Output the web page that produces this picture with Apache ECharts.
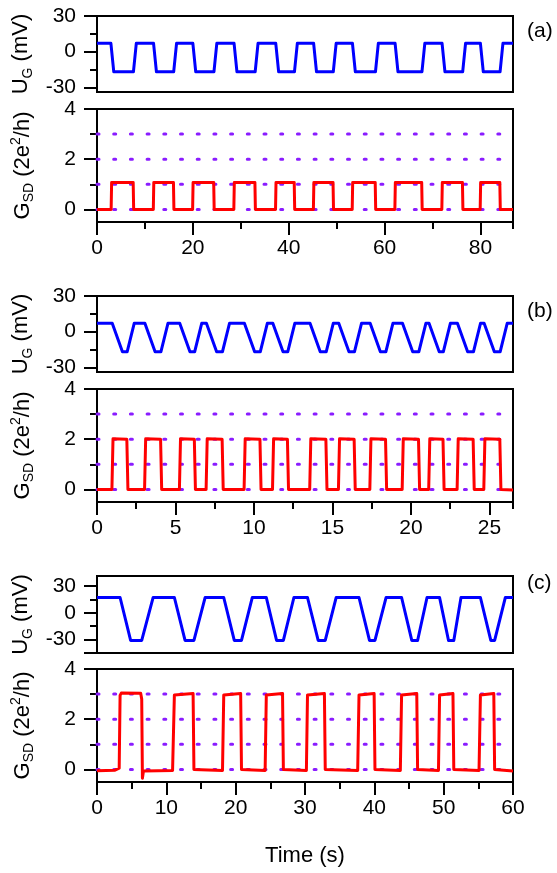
<!DOCTYPE html>
<html>
<head>
<meta charset="utf-8">
<script src="https://cdn.jsdelivr.net/npm/echarts@6/dist/echarts.min.js"></script>
<style>
  html, body { margin: 0; padding: 0; background: #fff; }
  #chart { width: 557px; height: 873px; }
</style>
</head>
<body>
<div id="chart"></div>
<script>
// ---- data: [time (s), value] ----
// panel (a)
const gateA = [[0,7],[2.9,7],[3.5,-17],[7.6,-17],[8.2,7],[11.8,7],[12.4,-17],[16.0,-17],[16.6,7],
  [20.0,7],[20.6,-17],[24.4,-17],[25.0,7],[28.6,7],[29.2,-17],[33.0,-17],[33.6,7],
  [37.3,7],[37.9,-17],[41.2,-17],[41.8,7],[45.2,7],[45.8,-17],[49.3,-17],[49.9,7],
  [53.3,7],[53.9,-17],[58.1,-17],[58.7,7],[62.2,7],[62.8,-17],[67.8,-17],[68.4,7],
  [72.0,7],[72.6,-17],[76.3,-17],[76.9,7],[80.0,7],[80.6,-17],[84.1,-17],[84.7,7],[86.8,7]];
const condA = [[0,0],[2.95,0],[3.05,1.07],[7.55,1.07],[7.65,0],
  [11.75,0],[11.85,1.07],[15.95,1.07],[16.05,0],[19.95,0],[20.05,1.07],[24.35,1.07],[24.45,0],
  [28.55,0],[28.65,1.07],[32.95,1.07],[33.05,0],[37.25,0],[37.35,1.07],[41.15,1.07],[41.25,0],
  [45.15,0],[45.25,1.07],[49.25,1.07],[49.35,0],[53.25,0],[53.35,1.07],[58.05,1.07],[58.15,0],
  [62.15,0],[62.25,1.07],[67.75,1.07],[67.85,0],[71.95,0],[72.05,1.07],[76.25,1.07],[76.35,0],
  [79.95,0],[80.05,1.07],[84.05,1.07],[84.15,0],[86.8,0]];
// panel (b)
const gateB = [[0,7],[0.97,7],[1.62,-17],[1.92,-17],[2.37,7],[3.05,7],[3.7,-17],[4.07,-17],[4.52,7],
  [5.27,7],[5.92,-17],[6.22,-17],[6.67,7],[6.97,7],[7.62,-17],[7.99,-17],[8.44,7],
  [9.39,7],[10.04,-17],[10.4,-17],[10.85,7],[11.2,7],[11.85,-17],[12.15,-17],[12.6,7],
  [13.57,7],[14.22,-17],[14.6,-17],[15.05,7],[15.4,7],[16.05,-17],[16.4,-17],[16.85,7],
  [17.4,7],[18.05,-17],[18.4,-17],[18.85,7],[19.46,7],[20.11,-17],[20.5,-17],[20.95,7],
  [21.15,7],[21.8,-17],[22.06,-17],[22.51,7],[22.96,7],[23.61,-17],[23.98,-17],[24.43,7],
  [24.66,7],[25.31,-17],[25.68,-17],[26.13,7],[26.5,7]];
const condB = [[0,0],[0.95,0],[1.02,2.02],[1.9,2.0],[1.97,0],[3.03,0],[3.1,2.02],[4.05,2.0],[4.12,0],
  [5.25,0],[5.32,2.02],[6.2,2.0],[6.27,0],[6.95,0],[7.02,2.02],[7.97,2.0],[8.04,0],
  [9.37,0],[9.44,2.02],[10.38,2.0],[10.45,0],[11.18,0],[11.25,2.02],[12.13,2.0],[12.2,0],
  [13.55,0],[13.62,2.02],[14.58,2.0],[14.65,0],[15.38,0],[15.45,2.02],[16.38,2.0],[16.45,0],
  [17.38,0],[17.45,2.02],[18.38,2.0],[18.45,0],[19.44,0],[19.51,2.02],[20.48,2.0],[20.55,0],
  [21.13,0],[21.2,2.02],[22.04,2.0],[22.11,0],[22.94,0],[23.01,2.02],[23.96,2.0],[24.03,0],
  [24.64,0],[24.71,2.02],[25.66,2.0],[25.73,0],[26.5,-0.02]];
// panel (c)
const gateC = [[0,17],[3.33,17],[4.85,-31],[6.45,-31],[8.1,17],[11.16,17],[12.7,-31],[13.98,-31],[15.6,17],
  [18.28,17],[19.8,-31],[20.84,-31],[22.4,17],[24.42,17],[25.9,-31],[26.88,-31],[28.4,17],
  [30.36,17],[31.9,-31],[32.92,-31],[34.5,17],[37.79,17],[39.3,-31],[40.09,-31],[41.7,17],
  [43.93,17],[45.4,-31],[46.24,-31],[47.6,17],[49.41,17],[50.7,-31],[51.46,-31],[52.5,17],
  [55.3,17],[56.8,-31],[57.35,-31],[58.9,17],[60,17]];
const condC = [[0,-0.05],[2.6,-0.03],[3.2,0.05],[3.33,2.95],[3.5,3.04],[6.3,3.03],[6.45,2.8],[6.55,-0.35],[6.7,-0.06],
  [10.9,-0.04],[11.05,0.02],[11.16,2.96],[11.4,3.03],[13.86,3.02],[13.98,0],[14.2,-0.05],
  [18.1,-0.04],[18.2,0.02],[18.28,2.96],[18.5,3.03],[20.72,3.02],[20.84,0],[21.1,-0.05],
  [24.25,-0.04],[24.35,0.02],[24.42,2.96],[24.6,3.03],[26.76,3.02],[26.88,0],[27.1,-0.05],
  [30.2,-0.04],[30.3,0.02],[30.36,2.96],[30.6,3.03],[32.8,3.02],[32.92,0],[33.2,-0.05],
  [37.6,-0.04],[37.7,0.02],[37.79,2.96],[38.0,3.03],[39.97,3.02],[40.09,0],[40.3,-0.05],
  [43.75,-0.04],[43.85,0.02],[43.93,2.96],[44.1,3.03],[46.12,3.02],[46.24,0],[46.5,-0.05],
  [49.25,-0.04],[49.33,0.02],[49.41,2.96],[49.6,3.03],[51.34,3.02],[51.46,0],[51.7,-0.05],
  [55.1,-0.04],[55.22,0.02],[55.3,2.96],[55.5,3.03],[57.23,3.02],[57.35,0],[57.6,-0.05],[60,-0.06]];

const panelTags = ['(a)', '(b)', '(c)'];
const timeMax = [86.8, 26.5, 60];
const timeStep = [20, 5, 10];
const gateRange = [[-34, 30], [-34, 30], [-45, 41]];
const gateMajorTicks = [[-30, 0, 30], [-30, 0, 30], [-45, -30, 0, 30]];
const gateMinorTicks = [[-15, 15], [-15, 15], [-15, 15]];
const gateLabels = [-30, 0, 30];
const condLabels = [0, 2, 4];
const condMinorTicks = [1, 3];
const quantumLevels = [0, 1, 2, 3];
const gates = [gateA, gateB, gateC];
const conds = [condA, condB, condC];

const FONT = 'Liberation Sans, Arial, sans-serif';
const chart = echarts.init(document.getElementById('chart'));

const nameRich = {
  t: { fontSize: 22, lineHeight: 27, fontFamily: FONT, color: '#000' },
  s: { fontSize: 14, lineHeight: 14, fontFamily: FONT, color: '#000', verticalAlign: 'bottom' },
  p: { fontSize: 14, lineHeight: 14, fontFamily: FONT, color: '#000', verticalAlign: 'top' }
};
const blackLine = { show: true, onZero: false, lineStyle: { color: '#000', width: 2 } };
const noLine = { show: false, onZero: false };

const grid = [], xAxis = [], yAxis = [], series = [], graphic = [];
const ugTop = [16, 296, 576], ugHeight = [76, 76, 77];
const gTop = [109, 389, 669], gHeight = 113;

function yTicks(gridIndex, range, ticks, len, labels, name) {
  return {
    type: 'value', gridIndex: gridIndex, position: 'left', min: range[0], max: range[1],
    axisLine: labels ? blackLine : noLine, splitLine: { show: false },
    axisTick: { show: true, inside: false, length: len, customValues: ticks, lineStyle: { color: '#000', width: 2 } },
    axisLabel: labels ? { show: true, customValues: labels, margin: 21, fontSize: 21, fontFamily: FONT, color: '#000' } : { show: false },
    name: name || '', nameLocation: 'middle', nameRotate: 90, nameGap: 61,
    nameTextStyle: { rich: nameRich }
  };
}

for (let p = 0; p < 3; p++) {
  // gate-voltage panel and conductance panel
  grid.push({ left: 97, right: 44, top: ugTop[p], height: ugHeight[p], show: true,
    borderColor: '#000', borderWidth: 2, backgroundColor: 'transparent' });
  grid.push({ left: 97, right: 44, top: gTop[p], height: gHeight, show: true,
    borderColor: '#000', borderWidth: 2, backgroundColor: 'transparent' });
  const gu = 2 * p, gg = 2 * p + 1;

  // x axes
  const xu = xAxis.length;
  xAxis.push({ type: 'value', gridIndex: gu, position: 'bottom', min: 0, max: timeMax[p],
    axisLine: noLine, axisTick: { show: false }, axisLabel: { show: false }, splitLine: { show: false } });
  const xg = xAxis.length;
  xAxis.push({ type: 'value', gridIndex: gg, position: 'bottom', min: 0, max: timeMax[p], interval: timeStep[p],
    axisLine: blackLine, splitLine: { show: false },
    axisTick: { show: true, inside: false, length: 13, lineStyle: { color: '#000', width: 2 } },
    axisLabel: { show: true, margin: 16, fontSize: 21, fontFamily: FONT, color: '#000', showMaxLabel: p === 2 },
    name: p === 2 ? 'Time (s)' : '', nameLocation: 'middle', nameGap: 63,
    nameTextStyle: { fontSize: 22, fontFamily: FONT, color: '#000' } });
  xAxis.push({ type: 'value', gridIndex: gg, position: 'bottom', min: 0, max: timeMax[p], interval: timeStep[p] / 2,
    axisLine: noLine, splitLine: { show: false }, axisLabel: { show: false },
    axisTick: { show: true, inside: false, length: 7, lineStyle: { color: '#000', width: 2 } } });

  // y axes
  const yu = yAxis.length;
  yAxis.push(yTicks(gu, gateRange[p], gateMajorTicks[p], 13, gateLabels, '{t|U}{s|G}{t| (mV)}'));
  yAxis.push(yTicks(gu, gateRange[p], gateMinorTicks[p], 7, null, null));
  const yg = yAxis.length;
  yAxis.push(yTicks(gg, [-0.5, 4], condLabels, 13, condLabels, '{t|G}{s|SD}{t| (2e}{p|2}{t|/h)}'));
  yAxis.push(yTicks(gg, [-0.5, 4], condMinorTicks, 7, null, null));

  // dotted conductance-quantum guides
  quantumLevels.forEach(function (lvl) {
    series.push({ type: 'line', xAxisIndex: xg, yAxisIndex: yg, data: [[0, lvl], [timeMax[p], lvl]],
      showSymbol: false, silent: true, z: 1,
      lineStyle: { color: '#8a1cff', width: 3, type: [2, 14.7], cap: 'round' } });
  });
  series.push({ type: 'line', xAxisIndex: xu, yAxisIndex: yu, data: gates[p], showSymbol: false, z: 3,
    lineStyle: { color: '#0000ff', width: 3, join: 'round' } });
  series.push({ type: 'line', xAxisIndex: xg, yAxisIndex: yg, data: conds[p], showSymbol: false, z: 3,
    lineStyle: { color: '#ff0000', width: 3, join: 'round' } });

  graphic.push({ type: 'text', left: 527, top: [21, 301, 573][p],
    style: { text: panelTags[p], fontSize: 21, fontFamily: FONT, fill: '#000' } });
}

chart.setOption({
  animation: false,
  grid: grid,
  xAxis: xAxis,
  yAxis: yAxis,
  series: series,
  graphic: graphic
});
</script>
</body>
</html>
